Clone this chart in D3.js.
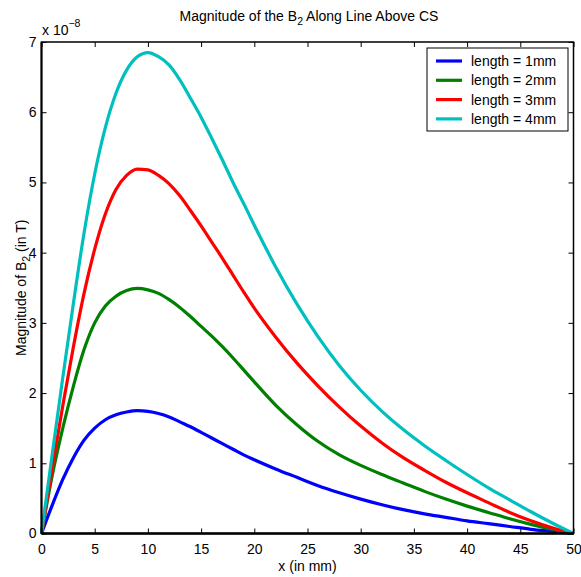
<!DOCTYPE html>
<html>
<head>
<meta charset="utf-8">
<script src="https://cdn.jsdelivr.net/npm/d3@7"></script>
<style>
  body { margin: 0; background: #fff; }
  svg { font-family: "Liberation Sans", Arial, sans-serif; }
</style>
</head>
<body>
<div class="canvas"></div>
<script>
const svgWidth = 581;
const svgHeight = 577;
const margin = { top: 42, right: 7.5, bottom: 43.5, left: 41.5 };
const graphWidth = svgWidth - margin.left - margin.right;
const graphHeight = svgHeight - margin.top - margin.bottom;

// data (values in units of 1e-8 T)
const xs = [0, 1, 2, 3, 4, 5, 6, 7, 8, 9, 10, 11, 12, 13, 14, 15, 16, 17, 18, 19, 20,
    22, 24, 26, 28, 30, 32, 34, 36, 38, 40, 42, 44, 46, 48, 50];
const len1 = [0, 0.4, 0.77, 1.08, 1.33, 1.5, 1.62, 1.69, 1.73, 1.75, 1.74, 1.71, 1.66, 1.59, 1.52, 1.44, 1.36, 1.28, 1.2, 1.12, 1.05,
    0.92, 0.8, 0.68, 0.58, 0.49, 0.41, 0.34, 0.28, 0.23, 0.18, 0.14, 0.1, 0.06, 0.03, 0];
const len2 = [0, 0.82, 1.5, 2.1, 2.62, 3.0, 3.24, 3.38, 3.46, 3.49, 3.47, 3.42, 3.33, 3.22, 3.09, 2.95, 2.81, 2.66, 2.5, 2.33, 2.16,
    1.83, 1.55, 1.31, 1.12, 0.97, 0.84, 0.72, 0.6, 0.49, 0.39, 0.3, 0.21, 0.13, 0.06, 0];
const len3 = [0, 0.92, 1.82, 2.66, 3.42, 4.05, 4.55, 4.9, 5.1, 5.19, 5.18, 5.1, 4.98, 4.81, 4.6, 4.38, 4.15, 3.92, 3.68, 3.44, 3.21,
    2.8, 2.43, 2.1, 1.8, 1.53, 1.29, 1.08, 0.9, 0.73, 0.58, 0.44, 0.3, 0.18, 0.08, 0];
const len4 = [0, 1.12, 2.22, 3.28, 4.28, 5.12, 5.78, 6.27, 6.6, 6.79, 6.85, 6.79, 6.67, 6.46, 6.2, 5.93, 5.63, 5.32, 5.0, 4.7, 4.39,
    3.8, 3.27, 2.8, 2.39, 2.04, 1.74, 1.48, 1.25, 1.04, 0.84, 0.65, 0.48, 0.31, 0.15, 0];
const seriesNames = ['length = 1mm', 'length = 2mm', 'length = 3mm', 'length = 4mm'];
const seriesColors = ['#0000ff', '#008000', '#ff0000', '#00bfbf'];
const xTicks = [0, 5, 10, 15, 20, 25, 30, 35, 40, 45, 50];
const yTicks = [0, 1, 2, 3, 4, 5, 6, 7];

const series = [len1, len2, len3, len4].map((vals, i) => ({
    name: seriesNames[i],
    color: seriesColors[i],
    points: xs.map((x, j) => ({ x, y: vals[j] }))
}));

const svg = d3.select('.canvas')
    .append('svg')
        .attr('width', svgWidth)
        .attr('height', svgHeight);

const g = svg.append('g')
    .attr('transform', `translate(${margin.left}, ${margin.top})`);

// Scales
const x = d3.scaleLinear().domain([0, 50]).range([0, graphWidth]);
const y = d3.scaleLinear().domain([0, 7]).range([graphHeight, 0]);

// Lines
const line = d3.line()
    .x(d => x(d.x))
    .y(d => y(d.y))
    .curve(d3.curveMonotoneX);

g.selectAll('.series')
    .data(series)
    .enter().append('path')
        .attr('class', 'series')
        .attr('d', d => line(d.points))
        .attr('fill', 'none')
        .attr('stroke', d => d.color)
        .attr('stroke-width', 3.2)
        .attr('stroke-linejoin', 'round');

// Axes (ticks pointing inward, MATLAB style)
const tickLen = 5;
g.append('g')
    .attr('transform', `translate(0, ${graphHeight})`)
    .call(d3.axisBottom(x).tickValues(xTicks).tickSize(-tickLen).tickPadding(11));
g.append('g')
    .call(d3.axisLeft(y).tickValues(yTicks).tickFormat(d3.format('d')).tickSize(-tickLen).tickPadding(5));
g.append('g')
    .call(d3.axisTop(x).tickValues(xTicks).tickSize(-tickLen).tickFormat(''));
g.append('g')
    .attr('transform', `translate(${graphWidth}, 0)`)
    .call(d3.axisRight(y).tickValues(yTicks).tickSize(-tickLen).tickFormat(''));

g.selectAll('.domain').remove();
g.selectAll('.tick line').attr('stroke', '#000').attr('stroke-width', 1);
g.selectAll('.tick text')
    .attr('fill', '#000')
    .style('font-size', '14px')
    .style('font-family', '"Liberation Sans", Arial, sans-serif');

// Box
g.append('rect')
    .attr('width', graphWidth)
    .attr('height', graphHeight)
    .attr('fill', 'none')
    .attr('stroke', '#000')
    .attr('stroke-width', 1.5);
g.append('line')
    .attr('x1', 0).attr('x2', graphWidth)
    .attr('y1', graphHeight).attr('y2', graphHeight)
    .attr('stroke', '#000').attr('stroke-width', 2.5);
g.append('line')
    .attr('x1', 0).attr('x2', 0)
    .attr('y1', 0).attr('y2', graphHeight)
    .attr('stroke', '#000').attr('stroke-width', 2);

// Exponent label
const expo = svg.append('text')
    .attr('x', 42)
    .attr('y', 35)
    .style('font-size', '14px');
expo.append('tspan').text('x 10');
expo.append('tspan').attr('dy', -8).style('font-size', '10.5px').text('\u22128');

// Title
const title = svg.append('text')
    .attr('x', 309)
    .attr('y', 21)
    .attr('text-anchor', 'middle')
    .style('font-size', '14px');
title.append('tspan').text('Magnitude of the B');
title.append('tspan').attr('dy', 4).style('font-size', '10.5px').text('2');
title.append('tspan').attr('dy', -4).text(' Along Line Above CS');

// Axis labels
svg.append('text')
    .attr('x', margin.left + graphWidth / 2)
    .attr('y', 571)
    .attr('text-anchor', 'middle')
    .style('font-size', '14px')
    .text('x (in mm)');

const yLabel = svg.append('text')
    .attr('transform', `translate(26, ${margin.top + graphHeight / 2}) rotate(-90)`)
    .attr('text-anchor', 'middle')
    .style('font-size', '14px');
yLabel.append('tspan').text('Magnitude of B');
yLabel.append('tspan').attr('dy', 4).style('font-size', '10.5px').text('2');
yLabel.append('tspan').attr('dy', -4).text(' (in T)');

// Legend
const legend = svg.append('g')
    .attr('transform', 'translate(427, 48)');
legend.append('rect')
    .attr('width', 141)
    .attr('height', 83)
    .attr('fill', '#fff')
    .attr('stroke', '#000')
    .attr('stroke-width', 1);
const rows = legend.selectAll('.row')
    .data(series)
    .enter().append('g')
        .attr('transform', (d, i) => `translate(0, ${13 + i * 19.3})`);
rows.append('line')
    .attr('x1', 9).attr('x2', 35)
    .attr('stroke', d => d.color)
    .attr('stroke-width', 3.2);
rows.append('text')
    .attr('x', 44)
    .attr('dy', '0.35em')
    .style('font-size', '14px')
    .text(d => d.name);
</script>
</body>
</html>
